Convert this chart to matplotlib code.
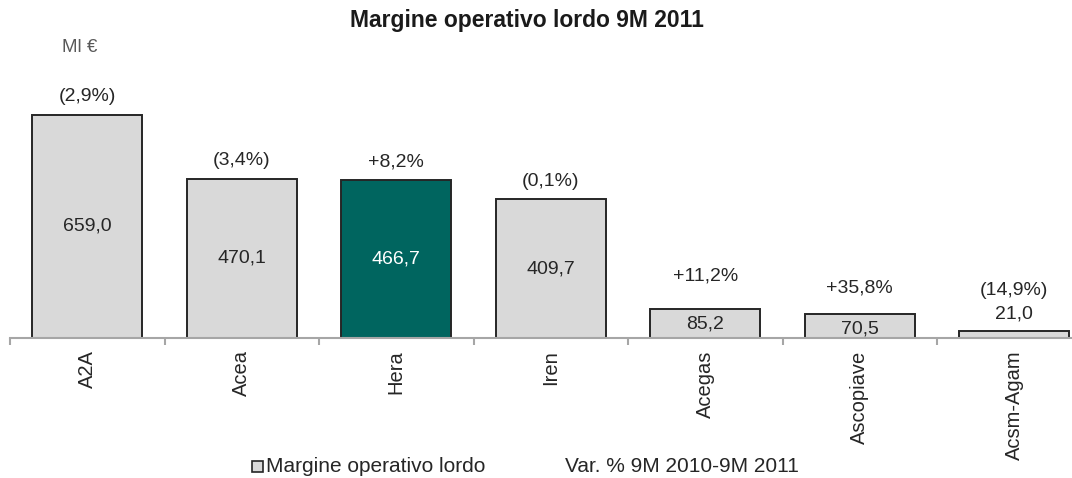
import numpy as np
import matplotlib.pyplot as plt
import matplotlib.patches as mpatches

plt.rcParams["font.family"] = ["Liberation Sans", "DejaVu Sans"]

companies = ["A2A", "Acea", "Hera", "Iren", "Acegas", "Ascopiave", "Acsm-Agam"]
ebitda = [659.0, 470.1, 466.7, 409.7, 85.2, 70.5, 21.0]
var_pct = ["(2,9%)", "(3,4%)", "+8,2%", "(0,1%)", "+11,2%", "+35,8%", "(14,9%)"]
highlight = "Hera"

GREY = "#d9d9d9"
TEAL = "#00655f"
TXT = "#262626"

# vertical offset (points) of the % label above each bar
pct_offset = {"Acegas": 18, "Ascopiave": 13, "Acsm-Agam": 23}


def fmt(v):
    return f"{v:.1f}".replace(".", ",")


fig = plt.figure(figsize=(10.72, 4.78), dpi=100)
ax = fig.add_axes([10 / 1072, 140 / 478, 1062 / 1072, 298 / 478])

x = np.arange(len(companies))
colours = [TEAL if c == highlight else GREY for c in companies]
ax.bar(x, ebitda, width=0.71, color=colours, edgecolor="#262626", lw=1.4, zorder=2)

for xi, v, c, p in zip(x, ebitda, companies, var_pct):
    if v < 50:
        # too short: value sits above the bar
        ax.annotate(fmt(v), (xi, v), xytext=(0, 6), textcoords="offset points",
                    ha="center", va="bottom", fontsize=14, color=TXT)
    else:
        ax.annotate(fmt(v), (xi, v / 2), xytext=(0, -2 if v < 80 else 0),
                    textcoords="offset points", ha="center", va="center",
                    fontsize=14, color="white" if c == highlight else TXT)
    ax.annotate(p, (xi, v), xytext=(0, pct_offset.get(c, 7)), textcoords="offset points",
                ha="center", va="bottom", fontsize=14, color=TXT)

ax.set_xlim(-0.5, -0.5 + 1062 / 154.5)
ax.set_ylim(0, 880)
for s in ["top", "right", "left"]:
    ax.spines[s].set_visible(False)
ax.spines["bottom"].set_color("#a6a6a6")
ax.spines["bottom"].set_linewidth(1.5)
ax.set_yticks([])

ax.set_xticks(x)
ax.set_xticklabels(companies, rotation=90, fontsize=14.5, color=TXT)
ax.tick_params(axis="x", which="major", length=0, pad=9)
ax.set_xticks(x - 0.5, minor=True)
ax.tick_params(axis="x", which="minor", length=5, width=1.5, color="#a6a6a6", direction="out")

fig.text(527 / 1072, 1 - 20 / 478, "Margine operativo lordo 9M 2011", ha="center", va="center",
         fontsize=16.5, fontweight="bold", color="#1a1a1a")
fig.text(80 / 1072, 1 - 47 / 478, "Ml €", ha="center", va="center", fontsize=13.5, color="#595959")

# legend row
fig.patches.append(mpatches.Rectangle((252 / 1072, 1 - 472 / 478), 11 / 1072, 11 / 478,
                                      transform=fig.transFigure, facecolor=GREY,
                                      edgecolor="#262626", lw=1.2))
fig.text(266 / 1072, 1 - 466 / 478, "Margine operativo lordo", ha="left", va="center",
         fontsize=15, color=TXT)
fig.text(565 / 1072, 1 - 466 / 478, "Var. % 9M 2010-9M 2011", ha="left", va="center",
         fontsize=15, color=TXT)

fig.savefig("out.png", dpi=100)
